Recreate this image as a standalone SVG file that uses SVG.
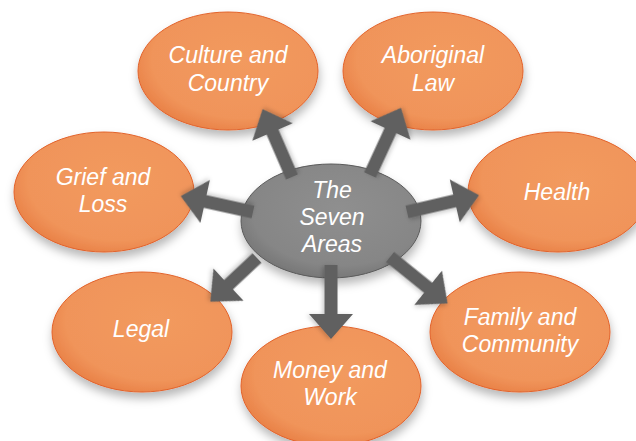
<svg xmlns="http://www.w3.org/2000/svg" width="636" height="441" viewBox="0 0 636 441">
  <style>
    .area { fill: url(#orange); stroke: #E2622A; stroke-width: 1; filter: url(#shadow); }
    .hub { fill: url(#grey); stroke: #5a5a5a; stroke-width: 1; filter: url(#shadow); }
    .label { font-family: "Liberation Sans", Arial, sans-serif; font-style: italic; font-size: 23px; fill: #ffffff; text-anchor: middle; }
    .arrow { fill: #606060; filter: url(#ashadow); }
  </style>
  <defs>
    <radialGradient id="orange" cx="0.58" cy="0.4" r="0.7">
      <stop offset="0" stop-color="#F29A5E"/>
      <stop offset="0.72" stop-color="#F0945A"/>
      <stop offset="1" stop-color="#E5773D"/>
    </radialGradient>
    <radialGradient id="grey" cx="0.55" cy="0.4" r="0.7">
      <stop offset="0" stop-color="#8f8f8f"/>
      <stop offset="0.7" stop-color="#868686"/>
      <stop offset="1" stop-color="#6c6c6c"/>
    </radialGradient>
    <filter id="shadow" x="-20%" y="-20%" width="140%" height="150%">
      <feDropShadow dx="1" dy="6" stdDeviation="5" flood-color="#000" flood-opacity="0.28"/>
    </filter>
    <filter id="ashadow" x="-20%" y="-40%" width="140%" height="180%">
      <feDropShadow dx="1" dy="2" stdDeviation="2" flood-color="#000" flood-opacity="0.2"/>
    </filter>
    <!-- block arrow pointing along +x, starting at the origin -->
    <path id="arrow74" d="M0,-6.5 H49 V-22 L74,0 L49,22 V6.5 H0 Z"/>
    <path id="arrow64" d="M0,-6.5 H39 V-22 L64,0 L39,22 V6.5 H0 Z"/>
  </defs>

  <g id="culture-and-country">
    <ellipse class="area" cx="228" cy="71" rx="90" ry="59"/>
    <text class="label" x="228" y="63">Culture and</text>
    <text class="label" x="228" y="91">Country</text>
  </g>

  <g id="aboriginal-law">
    <ellipse class="area" cx="433" cy="71" rx="90" ry="59"/>
    <text class="label" x="433" y="63">Aboriginal</text>
    <text class="label" x="433" y="91">Law</text>
  </g>

  <g id="grief-and-loss">
    <ellipse class="area" cx="104" cy="192" rx="90" ry="60"/>
    <text class="label" x="103" y="185">Grief and</text>
    <text class="label" x="103" y="212">Loss</text>
  </g>

  <g id="health">
    <ellipse class="area" cx="558" cy="192" rx="90" ry="60"/>
    <text class="label" x="557" y="200">Health</text>
  </g>

  <g id="legal">
    <ellipse class="area" cx="142" cy="332" rx="90" ry="60"/>
    <text class="label" x="141" y="337">Legal</text>
  </g>

  <g id="family-and-community">
    <ellipse class="area" cx="520" cy="332" rx="90" ry="60"/>
    <text class="label" x="520" y="325">Family and</text>
    <text class="label" x="520" y="352">Community</text>
  </g>

  <g id="money-and-work">
    <ellipse class="area" cx="331" cy="386" rx="90" ry="60"/>
    <text class="label" x="330" y="378">Money and</text>
    <text class="label" x="330" y="405">Work</text>
  </g>

  <g id="the-seven-areas">
    <ellipse class="hub" cx="331" cy="221" rx="90" ry="57"/>
    <text class="label" x="332" y="198">The</text>
    <text class="label" x="332" y="225">Seven</text>
    <text class="label" x="332" y="252">Areas</text>
  </g>

  <g id="connectors">
    <use href="#arrow74" class="arrow" transform="translate(292,177) rotate(-113.4)"/>
    <use href="#arrow74" class="arrow" transform="translate(370,175) rotate(-65.2)"/>
    <use href="#arrow74" class="arrow" transform="translate(253,212) rotate(-167.6)"/>
    <use href="#arrow74" class="arrow" transform="translate(407,212) rotate(-13.1)"/>
    <use href="#arrow64" class="arrow" transform="translate(257,258) rotate(136.9)"/>
    <use href="#arrow74" class="arrow" transform="translate(390,257) rotate(38.9)"/>
    <use href="#arrow74" class="arrow" transform="translate(331,265) rotate(90)"/>
  </g>
</svg>
